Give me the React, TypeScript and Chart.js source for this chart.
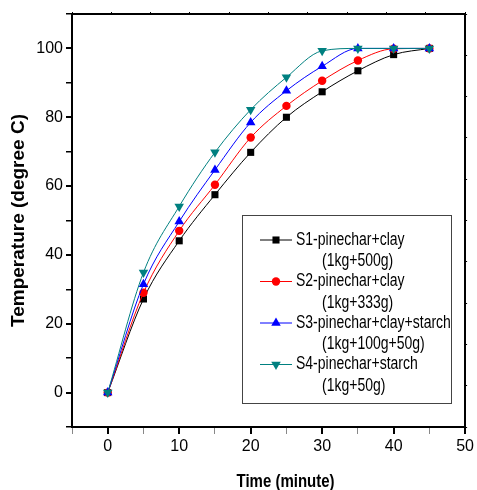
import React, { useEffect, useRef } from "react";
import { Chart, registerables } from "chart.js";

Chart.register(...registerables);

const times = [0, 5, 10, 15, 20, 25, 30, 35, 40, 45];
const s1 = [0, 27.2, 44.1, 57.5, 69.8, 80, 87.4, 93.5, 98.2, 100];
const s2 = [0, 29, 47, 60.4, 74.1, 83.3, 90.6, 96.5, 99.9, 100];
const s3 = [0, 31.5, 49.7, 64.7, 78.5, 87.7, 94.8, 100, 100, 100];
const s4 = [0, 34.9, 54.1, 69.8, 82.2, 91.6, 99.3, 100, 100, 100];

const seriesNames = [
  ["S1-pinechar+clay", "(1kg+500g)"],
  ["S2-pinechar+clay", "(1kg+333g)"],
  ["S3-pinechar+clay+starch", "(1kg+100g+50g)"],
  ["S4-pinechar+starch", "(1kg+50g)"],
];
const seriesColors = ["#000000", "#ff0000", "#0000ff", "#008080"];
const seriesStyles = ["rect", "circle", "triangle", "triangle"];
const seriesRotation = [0, 0, 0, 180];
const seriesRadius = [5, 4.2, 5.5, 5.5];

const xTicks = [0, 10, 20, 30, 40, 50];
const yTicks = [0, 20, 40, 60, 80, 100];
const xTitle = "Time (minute)";

const FONT = "'Liberation Sans', Arial, sans-serif";

function drawPt(ctx: any, style: string, r: number, rot: number, x: number, y: number) {
  ctx.save();
  ctx.translate(x, y);
  ctx.rotate((rot * Math.PI) / 180);
  ctx.beginPath();
  if (style === "rect") {
    const s = r * Math.SQRT1_2;
    ctx.rect(-s, -s, 2 * s, 2 * s);
  } else if (style === "circle") {
    ctx.arc(0, 0, r, 0, Math.PI * 2);
  } else {
    const a = -Math.PI / 2;
    for (let k = 0; k < 3; k++) {
      const ang = a + (k * 2 * Math.PI) / 3;
      const px = Math.cos(ang) * r;
      const py = Math.sin(ang) * r;
      if (k === 0) ctx.moveTo(px, py);
      else ctx.lineTo(px, py);
    }
    ctx.closePath();
  }
  ctx.fill();
  ctx.restore();
}

function stretchedText(ctx: any, text: string, x: number, y: number, sy: number) {
  ctx.save();
  ctx.translate(x, y);
  ctx.scale(1, sy);
  ctx.fillText(text, 0, 0);
  ctx.restore();
}

const legendPlugin = {
  id: "boxLegend",
  afterDraw(chart: any) {
    const ctx = chart.ctx;
    const left = 242;
    const top = 215;
    const w = 209;
    const h = 188;
    ctx.save();
    ctx.strokeStyle = "#444";
    ctx.lineWidth = 1;
    ctx.strokeRect(left + 0.5, top + 0.5, w, h);
    ctx.font = `14px ${FONT}`;
    ctx.textBaseline = "middle";
    ctx.textAlign = "left";
    chart.data.datasets.forEach((ds: any, i: number) => {
      const y = top + 25 + i * 41.5;
      ctx.strokeStyle = ds.borderColor;
      ctx.lineWidth = 1;
      ctx.beginPath();
      ctx.moveTo(left + 18, y);
      ctx.lineTo(left + 50, y);
      ctx.stroke();
      ctx.fillStyle = ds.backgroundColor;
      drawPt(ctx, ds.pointStyle, ds.pointRadius, ds.pointRotation || 0, left + 34, y);
      ctx.fillStyle = "#000";
      stretchedText(ctx, ds.label[0], left + 54, y, 1.25);
      stretchedText(ctx, ds.label[1], left + 80, y + 21.5, 1.25);
    });
    // x axis title
    const ca = chart.chartArea;
    ctx.font = `bold 15px ${FONT}`;
    ctx.textAlign = "center";
    stretchedText(ctx, xTitle, (ca.left + ca.right) / 2 + 17, 482, 1.2);
    ctx.restore();
  },
};

export default function App() {
  const ref = useRef<HTMLCanvasElement | null>(null);
  useEffect(() => {
    document.body.style.margin = "0";
    const series = [s1, s2, s3, s4];
    const chart = new Chart(ref.current as HTMLCanvasElement, {
      type: "line",
      data: {
        datasets: series.map((s, i) => ({
          label: seriesNames[i] as any,
          data: times.map((t, j) => ({ x: t, y: s[j] })),
          borderColor: seriesColors[i],
          backgroundColor: seriesColors[i],
          borderWidth: 1,
          pointStyle: seriesStyles[i] as any,
          pointRotation: seriesRotation[i],
          pointRadius: seriesRadius[i],
          pointBorderWidth: 0,
          cubicInterpolationMode: "monotone",
          order: 3 - i,
        })),
      },
      options: {
        animation: false,
        responsive: false,
        layout: { padding: 0 },
        plugins: { legend: { display: false }, tooltip: { enabled: false } },
        scales: {
          x: {
            type: "linear",
            position: "bottom",
            min: -5,
            max: 50,
            afterFit: (s: any) => {
              s.height = 63;
            },
            ticks: {
              stepSize: 5,
              padding: 3,
              color: "#000",
              font: { family: FONT, size: 16 },
              maxRotation: 0,
              callback: (v: any) => (xTicks.includes(v) ? String(v) : ""),
            },
            grid: {
              drawOnChartArea: false,
              drawTicks: true,
              tickLength: 7,
              color: (c: any) => (c.tick && xTicks.includes(c.tick.value) ? "#000" : "#888"),
              lineWidth: (c: any) => (c.tick && xTicks.includes(c.tick.value) ? 2 : 1),
            },
            border: { display: true, color: "#000", width: 2 },
          },
          y: {
            type: "linear",
            position: "left",
            min: -10,
            max: 110,
            afterFit: (s: any) => {
              s.width = 72;
            },
            ticks: {
              stepSize: 10,
              padding: 3,
              color: "#000",
              font: { family: FONT, size: 16 },
              callback: (v: any) => (yTicks.includes(v) ? String(v) : ""),
            },
            grid: {
              drawOnChartArea: false,
              drawTicks: true,
              tickLength: 6,
              color: "#000",
              lineWidth: (c: any) => (c.tick && yTicks.includes(c.tick.value) ? 2 : 1.5),
            },
            border: { display: true, color: "#000", width: 2 },
            title: {
              display: true,
              text: "Temperature (degree C)",
              color: "#000",
              font: { family: FONT, size: 19, weight: "bold", lineHeight: 1.2 },
              padding: { top: 7, bottom: 0 },
            },
          },
          x2: {
            type: "linear",
            position: "top",
            min: 0,
            max: 10,
            afterFit: (s: any) => {
              s.height = 14;
            },
            ticks: { display: false, stepSize: 1 },
            grid: { drawOnChartArea: false, drawTicks: true, tickLength: 2, color: "#000", lineWidth: 1 },
            border: { display: true, color: "#000", width: 2 },
          },
          y2: {
            type: "linear",
            position: "right",
            min: 0,
            max: 10,
            afterFit: (s: any) => {
              s.width = 9;
            },
            ticks: { display: false, stepSize: 1 },
            grid: { drawOnChartArea: false, drawTicks: true, tickLength: 2, color: "#000", lineWidth: 1 },
            border: { display: true, color: "#000", width: 2 },
          },
        },
      },
      plugins: [legendPlugin],
    });
    return () => chart.destroy();
  }, []);
  return <canvas ref={ref} width={477} height={490} style={{ display: "block" }} />;
}
